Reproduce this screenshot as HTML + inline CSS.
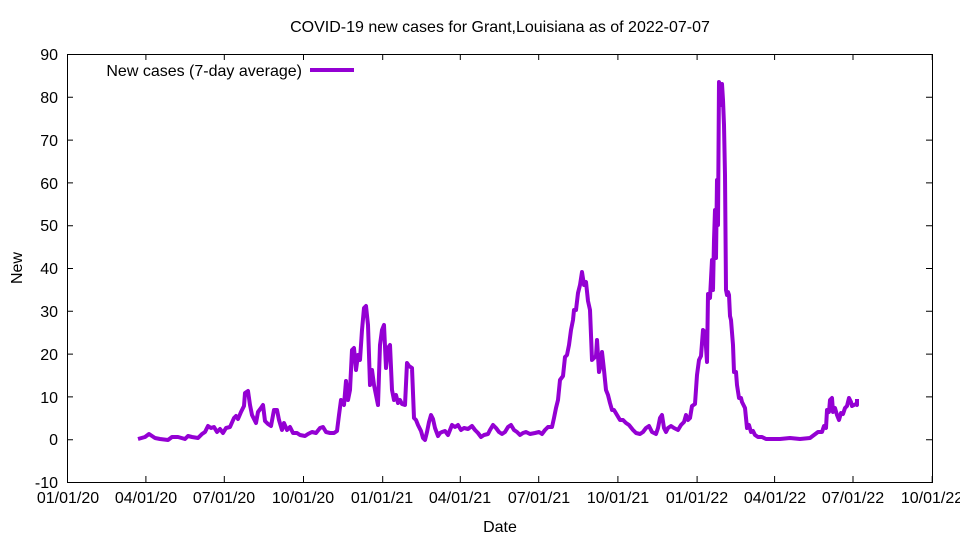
<!DOCTYPE html>
<html><head><meta charset="utf-8"><style>body{margin:0;background:#fff}svg{display:block}text{font-family:"Liberation Sans",sans-serif;font-size:16px;fill:#000}</style></head><body>
<svg width="960" height="540" viewBox="0 0 960 540">
<rect x="67.5" y="54.5" width="865" height="428" fill="none" stroke="#000" stroke-width="1"/>
<g stroke="#000" stroke-width="1">
<path d="M67 54.5h6M932 54.5h-6M67 97.3h6M932 97.3h-6M67 140.1h6M932 140.1h-6M67 182.9h6M932 182.9h-6M67 225.7h6M932 225.7h-6M67 268.5h6M932 268.5h-6M67 311.3h6M932 311.3h-6M67 354.1h6M932 354.1h-6M67 396.9h6M932 396.9h-6M67 439.7h6M932 439.7h-6"/>
<path d="M67.5 482v-6M145.9 482v-6M224.3 482v-6M303.5 482v-6M382.7 482v-6M460.3 482v-6M538.7 482v-6M617.9 482v-6M697.1 482v-6M774.6 482v-6M853 482v-6M932.2 482v-6M67.5 54v6M145.9 54v6M224.3 54v6M303.5 54v6M382.7 54v6M460.3 54v6M538.7 54v6M617.9 54v6M697.1 54v6M774.6 54v6M853 54v6M932.2 54v6"/>
</g>
<g text-anchor="end">
<text x="58" y="60">90</text><text x="58" y="103">80</text><text x="58" y="146">70</text><text x="58" y="189">60</text><text x="58" y="231">50</text><text x="58" y="274">40</text><text x="58" y="317">30</text><text x="58" y="360">20</text><text x="58" y="403">10</text><text x="58" y="445">0</text><text x="58" y="488">-10</text>
</g>
<g text-anchor="middle">
<text x="68" y="503">01/01/20</text><text x="146" y="503">04/01/20</text><text x="224" y="503">07/01/20</text><text x="303" y="503">10/01/20</text><text x="382" y="503">01/01/21</text><text x="460" y="503">04/01/21</text><text x="539" y="503">07/01/21</text><text x="618" y="503">10/01/21</text><text x="697" y="503">01/01/22</text><text x="775" y="503">04/01/22</text><text x="853" y="503">07/01/22</text><text x="932" y="503">10/01/22</text>
<text x="500" y="32">COVID-19 new cases for Grant,Louisiana as of 2022-07-07</text>
<text x="500" y="532">Date</text>
</g>
<text x="22" y="268" text-anchor="middle" transform="rotate(-90 22 268)">New</text>
<text x="302" y="76" text-anchor="end">New cases (7-day average)</text>
<path d="M310 70H354" stroke="#9400d3" stroke-width="4"/>
<polyline fill="none" stroke="#9400d3" stroke-width="4" stroke-linejoin="round" points="138,439 145,437 149,434 152,436 155,438 160,439 168,440 172,437 178,437 185,439 188,436 192,437 198,438 202,434 205,432 208,426 211,428 214,427 217,432 220,429 223,433 226,428 230,427 234,418 236,416 238,419 241,412 244,406 245,393 248,391 250,405 252,415 256,423 258,412 261,408 263,405 265,421 268,424 271,426 274,410 277,410 279,420 282,430 284,423 287,430 290,427 293,433 297,433 300,435 305,436 308,434 312,432 316,433 320,428 323,427 326,432 330,433 334,433 337,431 339,415 341,400 344,405 346,381 348,400 350,390 352,350 354,348 356,370 358,355 360,360 362,330 364,308 366,306 368,325 370,385 372,370 374,385 376,395 378,405 380,345 382,330 384,325 386,368 388,348 390,345 392,390 394,400 396,395 398,403 400,400 402,404 405,405 407,363 409,366 412,368 414,418 416,420 418,425 421,431 423,438 425,440 427,432 429,422 431,415 433,419 435,428 438,436 440,433 442,432 445,431 448,435 450,430 452,425 455,427 458,425 461,430 464,428 468,429 472,426 475,430 478,433 481,437 484,435 488,434 490,430 493,425 496,428 499,432 502,434 505,432 508,427 511,425 514,430 517,432 520,435 523,433 526,432 530,434 535,433 539,432 542,434 545,430 548,427 552,427 554,418 556,408 558,400 560,380 563,376 565,357 567,355 569,345 571,330 573,320 574,310 576,310 578,293 580,285 582,272 584,285 586,282 588,301 590,310 592,360 594,358 596,356 597,340 599,372 600,368 602,352 604,370 606,390 608,395 610,403 612,410 614,410 617,415 620,420 623,420 626,423 629,425 633,430 636,433 640,434 643,432 646,428 649,426 652,432 656,434 658,428 660,418 662,415 664,428 666,432 668,428 671,426 674,428 678,430 681,425 684,422 686,415 688,420 690,418 692,406 695,404 697,375 699,360 701,356 703,330 705,332 707,362 708,294 710,298 712,260 713,290 714,240 715,210 716,258 717,180 718,225 719,82 720,85 721,105 722,84 723,100 724,125 725,175 726,290 727,295 728,292 729,295 730,316 731,320 733,345 734,372 736,372 737,385 739,398 741,398 742,402 745,408 747,428 749,425 751,432 753,431 755,435 758,437 762,437 766,439 770,439 780,439 790,438 800,439 810,438 814,435 818,432 822,432 824,426 826,428 827,410 829,412 830,400 832,398 833,412 835,408 837,415 839,420 841,413 843,414 845,408 847,406 849,398 851,402 852,406 854,405 856,404 857,405 857,399"/>
</svg>
</body></html>
